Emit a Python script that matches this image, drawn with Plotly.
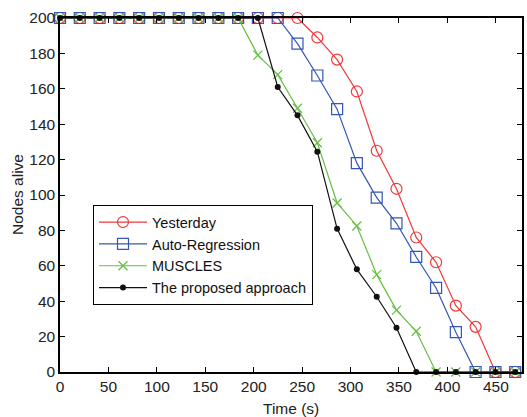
import plotly.graph_objects as go

time_s = [0, 20.4, 40.9, 61.3, 81.7, 102.2, 122.6, 143.0, 163.5, 183.9, 204.3, 224.8,
          245.2, 265.7, 286.1, 306.5, 327.0, 347.4, 367.8, 388.3, 408.7, 429.1, 449.6, 470.0]

yesterday = [200, 200, 200, 200, 200, 200, 200, 200, 200, 200, 200, 200,
             200, 189, 176.5, 158.5, 125, 103.5, 76, 62, 37.5, 25.5, 0, 0]
auto_regression = [200, 200, 200, 200, 200, 200, 200, 200, 200, 200, 200, 200,
                   185.5, 167.5, 148.5, 118, 98.5, 84, 65, 47.5, 22.5, 0, 0, 0]
muscles = [200, 200, 200, 200, 200, 200, 200, 200, 200, 200, 179, 168,
           149, 129.5, 95.5, 82.5, 55, 35, 23, 0, 0, 0, 0, 0]
proposed = [200, 200, 200, 200, 200, 200, 200, 200, 200, 200, 200, 161,
            145, 124.5, 81, 58, 42.5, 25, 0, 0, 0, 0, 0, 0]

series_names = ["Yesterday", "Auto-Regression", "MUSCLES", "The proposed approach"]
x_ticks = [0, 50, 100, 150, 200, 250, 300, 350, 400, 450]
y_ticks = [0, 20, 40, 60, 80, 100, 120, 140, 160, 180, 200]
x_title = "Time (s)"
y_title = "Nodes alive"

FONT = "Liberation Sans Narrow, Arial Narrow, Liberation Sans, Arial, sans-serif"

fig = go.Figure()
styles = [
    (yesterday, "#f0383a", dict(symbol="circle-open", size=11, line=dict(width=1.2))),
    (auto_regression, "#3456b4", dict(symbol="square-open", size=11, line=dict(width=1.2))),
    (muscles, "#66bd45", dict(symbol="x-thin-open", size=9, line=dict(width=1.2))),
    (proposed, "#111111", dict(symbol="circle", size=6)),
]
for name, (vals, col, mk) in zip(series_names, styles):
    mk = dict(mk, color=col)
    if "line" in mk:
        mk["line"] = dict(mk["line"], color=col)
    fig.add_trace(go.Scatter(x=time_s, y=vals, name=name, mode="lines+markers",
                             line=dict(color=col, width=1.2), marker=mk,
                             cliponaxis=False))

axis_common = dict(showline=True, linecolor="black", linewidth=1.5, mirror="ticks",
                   ticks="inside", ticklen=5, tickcolor="black", tickwidth=1,
                   showgrid=False, zeroline=False, automargin=False,
                   tickfont=dict(family=FONT, size=15.5, color="#222"))
fig.update_xaxes(range=[0, 477], tickvals=x_ticks, **axis_common)
fig.update_yaxes(range=[0, 200], tickvals=y_ticks, **axis_common)

fig.add_annotation(text=x_title, xref="paper", yref="paper", x=0.5, y=0,
                   xanchor="center", yanchor="middle", yshift=-36, showarrow=False,
                   font=dict(family=FONT, size=15.5, color="#222"))
fig.add_annotation(text=y_title, xref="paper", yref="paper", x=0, y=0.5,
                   xanchor="center", yanchor="middle", xshift=-43, textangle=-90,
                   showarrow=False, font=dict(family=FONT, size=15.5, color="#222"))

fig.update_layout(
    width=527, height=417,
    margin=dict(l=60, r=5, t=18, b=45),
    plot_bgcolor="white", paper_bgcolor="white",
    font=dict(family=FONT, size=15.5, color="#222"),
    legend=dict(x=0.071, y=0.472, xanchor="left", yanchor="top",
                bgcolor="white", bordercolor="black", borderwidth=1.2,
                font=dict(family=FONT, size=14.5, color="#111"),
                tracegroupgap=0, itemwidth=48),
    showlegend=True,
)
fig.write_html("out.html", config={"displayModeBar": False},
               post_script="document.body.style.margin='0';")
